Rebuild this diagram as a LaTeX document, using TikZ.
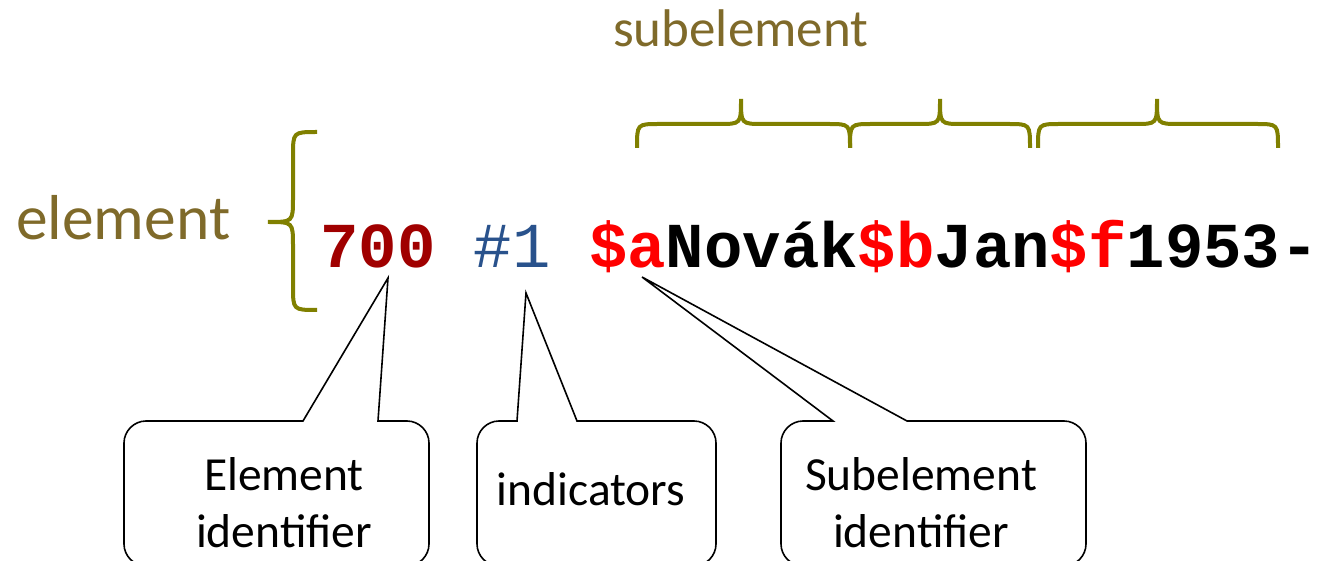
\documentclass[tikz,border=0pt]{standalone}
\usepackage{fontspec}
\setmainfont{Carlito}
\newfontfamily\codefont{Liberation Mono}
\usetikzlibrary{positioning}

\definecolor{braceolive}{RGB}{128,128,0}
\definecolor{labelolive}{RGB}{127,106,42}
\definecolor{tagred}{RGB}{160,0,0}
\definecolor{indblue}{RGB}{41,82,140}
\definecolor{codered}{RGB}{255,0,0}

\begin{document}
\begin{tikzpicture}[x=1pt, y=-1pt,
    olivebrace/.style={draw=braceolive, line width=4pt},
    callout/.style={draw, line width=1.6pt, line join=miter},
    boxtext/.style={font=\fontsize{47.5}{57}\selectfont, align=center, inner sep=0pt}]
  \useasboundingbox (0,0) rectangle (1318,561);
  \clip (0,0) rectangle (1318,561);

  % labels above and left
  \node[font=\fontsize{63.5}{63.5}\selectfont, text=labelolive, anchor=base west, inner sep=0pt] (elemlabel) at (16,240) {element};
  \node[font=\fontsize{53}{53}\selectfont, text=labelolive, anchor=base west, inner sep=0pt] (sublabel) at (613,47) {subelement};

  % the field itself
  \node[font=\codefont\bfseries\fontsize{64}{64}\selectfont, anchor=base west, inner sep=0pt] (field) at (320,268)
    {\textcolor{tagred}{700} \textcolor{indblue}{\mdseries\#1} \textcolor{codered}{\$a}Novák\textcolor{codered}{\$b}Jan\textcolor{codered}{\$f}1953-};

  % brace round the whole element
  \draw[olivebrace] (317,132) .. controls (293,132) .. (293,156) -- (293,198)
    .. controls (293,222) .. (268,222) .. controls (293,222) .. (293,246) -- (293,286)
    .. controls (293,310) .. (317,310);

  % braces over the subelements
  \foreach \a/\m/\b in {637/741/850, 850/940/1030, 1038/1157/1278}
    \draw[olivebrace] (\a,148) .. controls (\a,124) .. (\a+22,124) -- (\m-22,124)
      .. controls (\m,124) .. (\m,99) .. controls (\m,124) .. (\m+22,124) -- (\b-22,124)
      .. controls (\b,124) .. (\b,148);

  % callouts
  \coordinate (tipE) at (388,278);
  \coordinate (tipI) at (526,293);
  \coordinate (tipS) at (642,277);
  \foreach \l/\r/\pa/\pb/\t in {124/429/303/378/tipE, 477/716/517/577/tipI, 781/1086/833/907/tipS}
    \draw[callout] (\pa,421) -- (\t) -- (\pb,421) -- (\r-22,421)
      .. controls (\r-10,421) and (\r,431) .. (\r,443) -- (\r,544)
      .. controls (\r,556) and (\r-10,566) .. (\r-22,566) -- (\l+22,566)
      .. controls (\l+10,566) and (\l,556) .. (\l,544) -- (\l,443)
      .. controls (\l,431) and (\l+10,421) .. (\l+22,421) -- cycle;

  \node[boxtext, anchor=base] (eid) at (284,547) {Element\\identifier};
  \node[boxtext, anchor=base] (ind) at (591,505) {indicators};
  \node[boxtext, anchor=base] (sid) at (921,547) {Subelement\\identifier};
\end{tikzpicture}
\end{document}
